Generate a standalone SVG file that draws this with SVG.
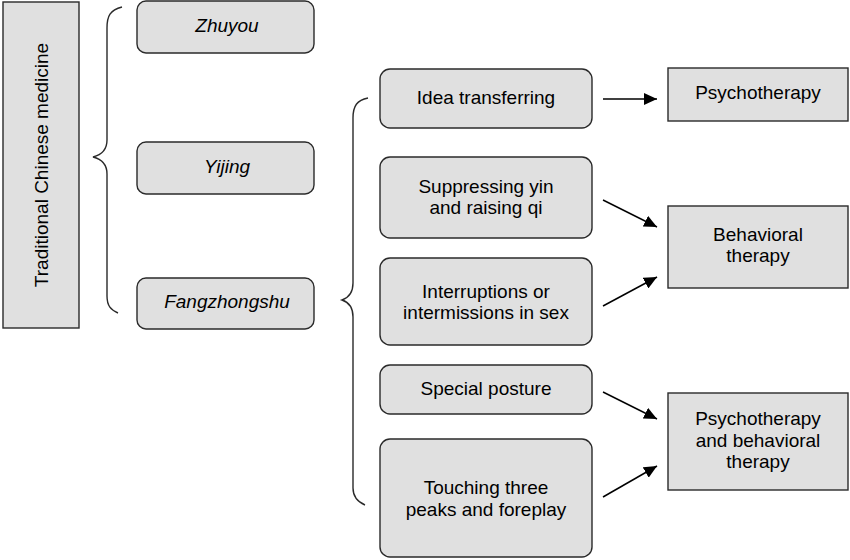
<svg xmlns="http://www.w3.org/2000/svg" width="850" height="560" viewBox="0 0 850 560">
<style>
.box{fill:#e0e0e0;stroke:#2a2a2a;stroke-width:1.4}
.t{font-family:"Liberation Sans",Arial,sans-serif;font-size:19px;fill:#000;text-anchor:middle}
.it{font-style:italic}
.br{fill:none;stroke:#2a2a2a;stroke-width:1.4}
.ar{stroke:#000;stroke-width:1.5;fill:none}
</style>
<defs>
<marker id="ah" markerWidth="13" markerHeight="12" refX="13" refY="6" orient="auto" markerUnits="userSpaceOnUse">
<path d="M0,0 L13,6 L0,12 Z" fill="#000"/>
</marker>
</defs>
<rect width="850" height="560" fill="#fff"/>
<g id="tcm">
<rect class="box" x="3" y="2" width="76" height="326"/>
<text class="t" transform="translate(48,165) rotate(-90)">Traditional Chinese medicine</text>
</g>
<g id="brace1">
<path class="br" d="M122,7 C110,10 107,16 107,28 L107,140 C107,150 101,155 93,157 C101,159 107,164 107,174 L107,296 C107,306 111,310 118,313"/>
</g>
<g id="zhuyou">
<rect class="box" x="137" y="1" width="177" height="52" rx="9"/>
<text class="t it" x="227" y="32">Zhuyou</text>
</g>
<g id="yijing">
<rect class="box" x="137" y="142" width="177" height="52" rx="9"/>
<text class="t it" x="227" y="173">Yijing</text>
</g>
<g id="fangzhongshu">
<rect class="box" x="137" y="278" width="177" height="51" rx="9"/>
<text class="t it" x="227" y="308">Fangzhongshu</text>
</g>
<g id="brace2">
<path class="br" d="M368,98 C357,100 353,106 353,118 L353,283 C353,293 348,298 342,300 C348,302 353,307 353,317 L353,488 C353,497 358,502 365,505"/>
</g>
<g id="idea">
<rect class="box" x="380" y="69" width="212" height="59" rx="10"/>
<text class="t" x="486" y="104">Idea transferring</text>
</g>
<g id="suppressing">
<rect class="box" x="380" y="157" width="212" height="81" rx="10"/>
<text class="t" x="486" y="193">Suppressing yin</text>
<text class="t" x="486" y="214">and raising qi</text>
</g>
<g id="interruptions">
<rect class="box" x="380" y="258" width="212" height="87" rx="10"/>
<text class="t" x="486" y="298">Interruptions or</text>
<text class="t" x="486" y="319">intermissions in sex</text>
</g>
<g id="posture">
<rect class="box" x="380" y="365" width="212" height="49" rx="10"/>
<text class="t" x="486" y="395">Special posture</text>
</g>
<g id="touching">
<rect class="box" x="380" y="439" width="212" height="118" rx="10"/>
<text class="t" x="486" y="494">Touching three</text>
<text class="t" x="486" y="516">peaks and foreplay</text>
</g>
<g id="psychotherapy">
<rect class="box" x="668" y="68" width="180" height="53"/>
<text class="t" x="758" y="99">Psychotherapy</text>
</g>
<g id="behavioral">
<rect class="box" x="668" y="206" width="180" height="82"/>
<text class="t" x="758" y="241">Behavioral</text>
<text class="t" x="758" y="262">therapy</text>
</g>
<g id="both">
<rect class="box" x="668" y="393" width="180" height="97"/>
<text class="t" x="758" y="425">Psychotherapy</text>
<text class="t" x="758" y="447">and behavioral</text>
<text class="t" x="758" y="468">therapy</text>
</g>
<g id="connectors">
<line class="ar" x1="603" y1="99" x2="657" y2="99" marker-end="url(#ah)"/>
<line class="ar" x1="603" y1="200" x2="657" y2="227" marker-end="url(#ah)"/>
<line class="ar" x1="603" y1="306" x2="657" y2="277" marker-end="url(#ah)"/>
<line class="ar" x1="603" y1="392" x2="657" y2="419" marker-end="url(#ah)"/>
<line class="ar" x1="603" y1="497" x2="657" y2="466" marker-end="url(#ah)"/>
</g>
</svg>
